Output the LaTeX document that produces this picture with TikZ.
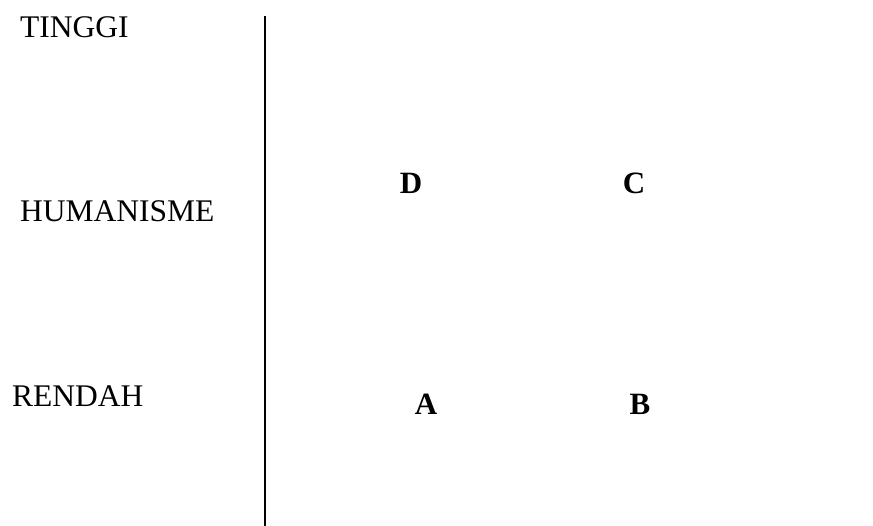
\documentclass[tikz,border=0pt]{standalone}
\usepackage{fontspec}
\setmainfont{Liberation Serif}
\usetikzlibrary{positioning}

\begin{document}
\begin{tikzpicture}[
  x=1pt, y=-1pt,
  level/.style={inner sep=0pt, anchor=base west, font=\fontsize{31.5}{36}\selectfont},
  cell/.style={inner sep=0pt, anchor=base, font=\fontsize{31}{36}\selectfont\bfseries},
  axis/.style={line width=1.6pt, draw=black}
]
\useasboundingbox (0,0) rectangle (873,526);

\node[level] (high) at (20,38) {TINGGI};
\node[level] (mid) at (20,222) {HUMANISME};
\node[level] (low) at (12,407) {RENDAH};

\coordinate (top) at (265,16);
\coordinate (bottom) at (265,526);
\draw[axis] (top) -- (bottom);

\node[cell] (d) at (411,194) {D};
\node[cell] (c) at (634,194) {C};
\node[cell] (a) at (426,415) {A};
\node[cell] (b) at (640,415) {B};

\end{tikzpicture}
\end{document}
